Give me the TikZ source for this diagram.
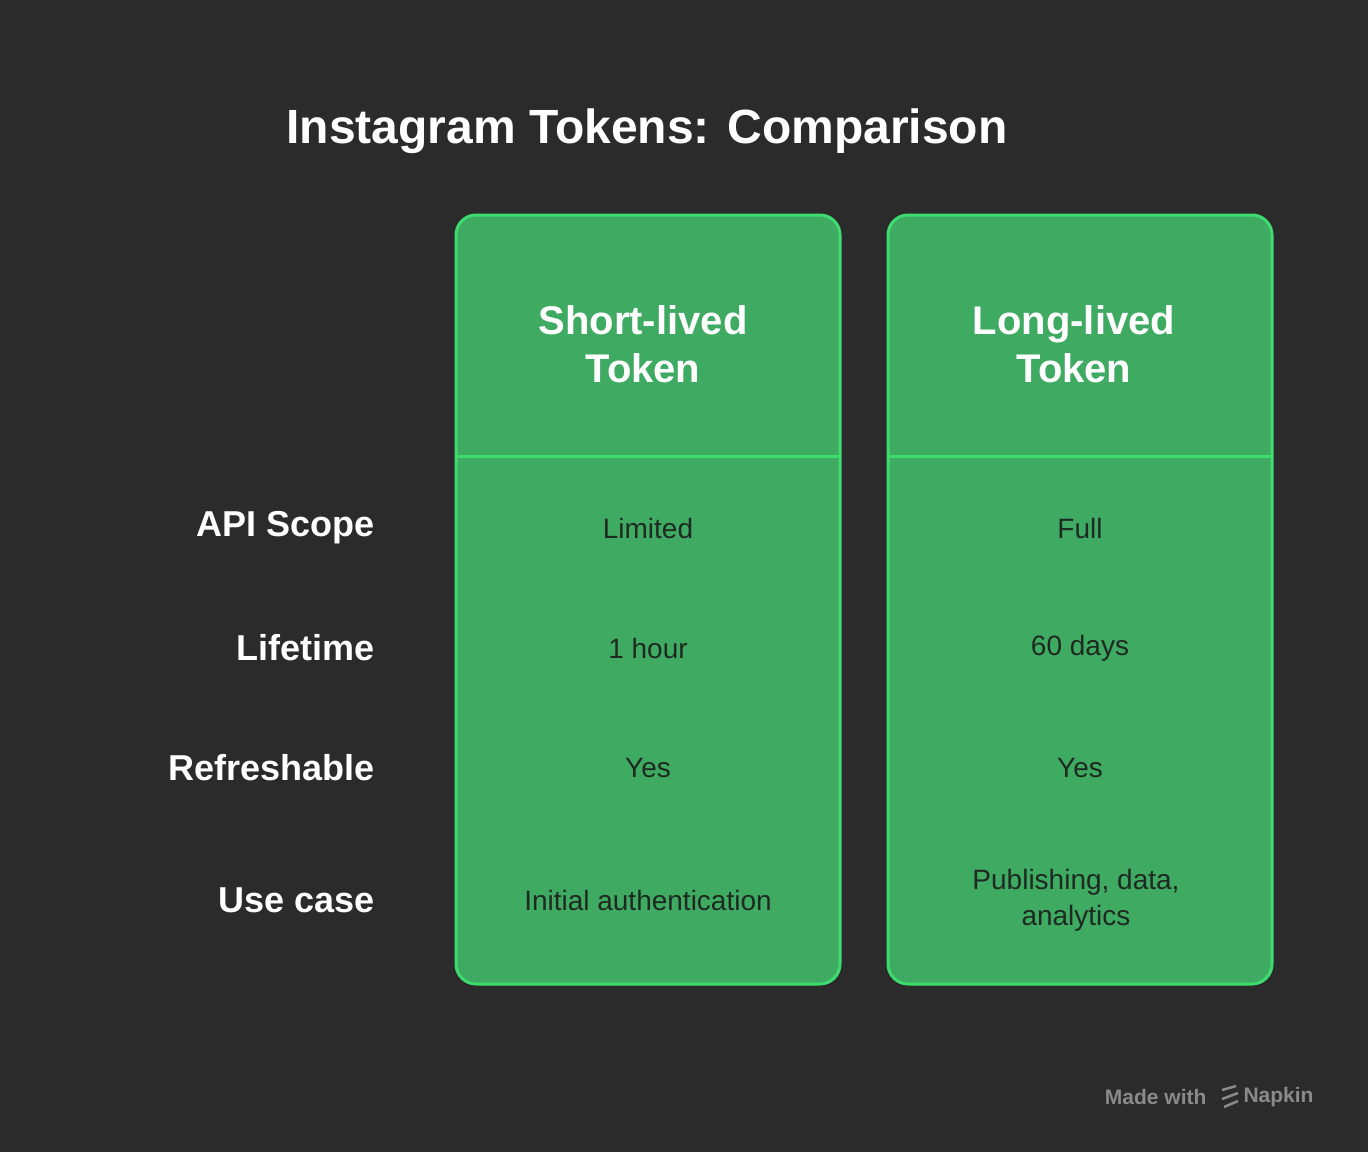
\documentclass[tikz,border=0pt]{standalone}
\usepackage{fontspec}
\setmainfont{Liberation Sans}
\definecolor{bg}{HTML}{2B2B2B}
\definecolor{cell}{HTML}{3FAB62}
\definecolor{edge}{HTML}{3DDC6E}
\definecolor{ink}{HTML}{1E2A21}
\definecolor{mute}{HTML}{8A8A8A}
\tikzset{
 col/.style={draw=edge,line width=3pt,fill=cell,rounded corners=20pt},
 hdr/.style={font=\fontsize{40}{48}\selectfont\bfseries,text=white,align=center},
 rowlab/.style={font=\fontsize{36}{42}\selectfont\bfseries,text=white,anchor=east},
 val/.style={font=\fontsize{28}{36}\selectfont,text=ink,align=center},
}
\begin{document}
\begin{tikzpicture}[x=1pt,y=-1pt]
\fill[bg] (0,0) rectangle (1368,1152);
\useasboundingbox (0,0) rectangle (1368,1152);
\node[font=\fontsize{48}{56}\selectfont\bfseries,text=white] (title) at (647,131) {Instagram Tokens: Comparison};
\draw[col] (456,215) rectangle (840,984);
\draw[col] (888,215) rectangle (1272,984);
\draw[edge,line width=3pt] (456,456) -- (840,456);
\draw[edge,line width=3pt] (888,456) -- (1272,456);
\node[hdr] (h1) at (643,344) {Short-lived\\Token};
\node[hdr] (h2) at (1074,344) {Long-lived\\Token};
\node[rowlab] (r1) at (378,528) {API Scope};
\node[rowlab] (r2) at (378,648) {Lifetime};
\node[rowlab] (r3) at (378,768) {Refreshable};
\node[rowlab] (r4) at (378,900) {Use case};
\node[val] (a1) at (648,528) {Limited};
\node[val] (a2) at (648,648) {1 hour};
\node[val] (a3) at (648,768) {Yes};
\node[val] (a4) at (648,900) {Initial authentication};
\node[val] (b1) at (1080,528) {Full};
\node[val] (b2) at (1080,648) {60 days};
\node[val] (b3) at (1080,768) {Yes};
\node[val] (b4) at (1076,900) {Publishing, data,\\analytics};
\node[font=\fontsize{21}{24}\selectfont\bfseries,text=mute,anchor=east] (mw) at (1210,1097) {Made with};
\node[font=\fontsize{21}{24}\selectfont\bfseries,text=mute,anchor=west] (np) at (1240,1097) {Napkin};
\draw[mute,line width=2.5pt] (1222,1090) -- (1236,1086) (1222,1099) -- (1238,1093) (1224,1107) -- (1238,1101);
\end{tikzpicture}
\end{document}
